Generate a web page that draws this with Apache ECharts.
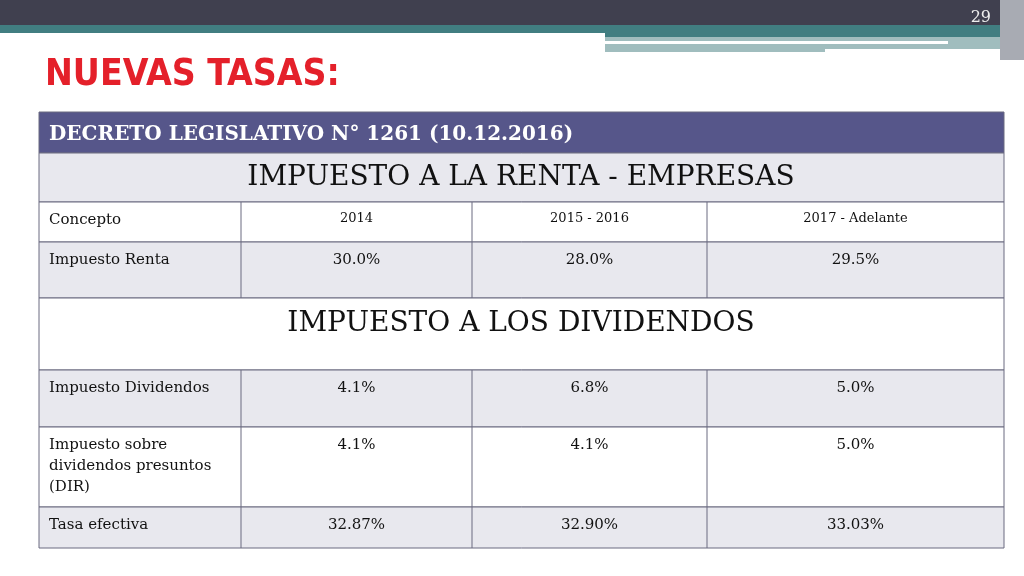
<!DOCTYPE html><html><head><meta charset="utf-8">
<script src="https://cdn.jsdelivr.net/npm/echarts@6/dist/echarts.min.js"></script>
<style>html,body{margin:0;background:#fff}#c{width:1024px;height:576px}</style></head><body><div id="c"></div>
<script>
const pageNumber = '29';
const title = 'NUEVAS TASAS:';
const decree = 'DECRETO LEGISLATIVO N° 1261 (10.12.2016)';
const section1 = 'IMPUESTO A LA RENTA - EMPRESAS';
const section2 = 'IMPUESTO A LOS DIVIDENDOS';
const columns = ['Concepto', '2014', '2015 - 2016', '2017 - Adelante'];
const rentaRow = ['Impuesto Renta', '30.0%', '28.0%', '29.5%'];
const dividendRows = [
  ['Impuesto Dividendos', '4.1%', '6.8%', '5.0%'],
  ['Impuesto sobre\ndividendos presuntos\n(DIR)', '4.1%', '4.1%', '5.0%'],
  ['Tasa efectiva', '32.87%', '32.90%', '33.03%']
];

const colX = [39, 241, 472, 707, 1004];
const serif = '"DejaVu Serif"';
const g = [];
g.push({type:'rect',shape:{x:0,y:0,width:1024,height:25},style:{fill:'#40404f'}});
g.push({type:'rect',shape:{x:0,y:25,width:1024,height:12},style:{fill:'#417e81'}});
g.push({type:'rect',shape:{x:605,y:37,width:395,height:15},style:{fill:'#a0bdbe'}});
g.push({type:'rect',shape:{x:0,y:33,width:605,height:20},style:{fill:'#fff'}});
g.push({type:'rect',shape:{x:605,y:41,width:343,height:3},style:{fill:'#fff'}});
g.push({type:'rect',shape:{x:825,y:49,width:175,height:4},style:{fill:'#fff'}});
g.push({type:'rect',shape:{x:1000,y:0,width:24,height:60},style:{fill:'#a8abb3'}});
g.push({type:'text',x:991,y:18,style:{text:pageNumber,fill:'#eee',font:'16px '+serif,align:'right',verticalAlign:'middle'}});
g.push({type:'text',x:45,y:75,style:{text:title,fill:'#e4202a',font:'bold 37px "DejaVu Sans Condensed"',verticalAlign:'middle'}});

function rect(y,h,fill){g.push({type:'rect',shape:{x:39,y,width:965,height:h},style:{fill,stroke:'#6a6a80',lineWidth:1}});}
function txt(x,y,t,size,opts){g.push({type:'text',x,y,style:Object.assign({text:t,fill:'#111',font:size+'px '+serif,verticalAlign:'top',lineHeight:size*1.4},opts||{})});}
function row(y,h,fill,cells,size,csize){
  rect(y,h,fill);
  for(let i=1;i<4;i++) g.push({type:'line',shape:{x1:colX[i],y1:y,x2:colX[i],y2:y+h},style:{stroke:'#6a6a80',lineWidth:1}});
  txt(49,y+8,cells[0],size);
  for(let i=1;i<4;i++) txt((colX[i]+colX[i+1])/2,y+8,cells[i],csize||size,{align:'center'});
}
rect(112,41,'#56568a');
txt(49,121,decree,20,{fill:'#fff',font:'bold 20px '+serif});
rect(153,49,'#e8e8ee');
txt(521,178,section1,28,{align:'center',verticalAlign:'middle'});
row(202,40,'#fff',columns,15,13);
row(242,56,'#e8e8ee',rentaRow,15);
rect(298,72,'#fff');
txt(521,324,section2,28,{align:'center',verticalAlign:'middle'});
const hs=[57,80,41], fills=['#e8e8ee','#fff','#e8e8ee'];
let y=370;
dividendRows.forEach((r,i)=>{row(y,hs[i],fills[i],r,15);y+=hs[i];});

const chart = echarts.init(document.getElementById('c'));
chart.setOption({animation:false,graphic:{elements:g}});
</script></body></html>
